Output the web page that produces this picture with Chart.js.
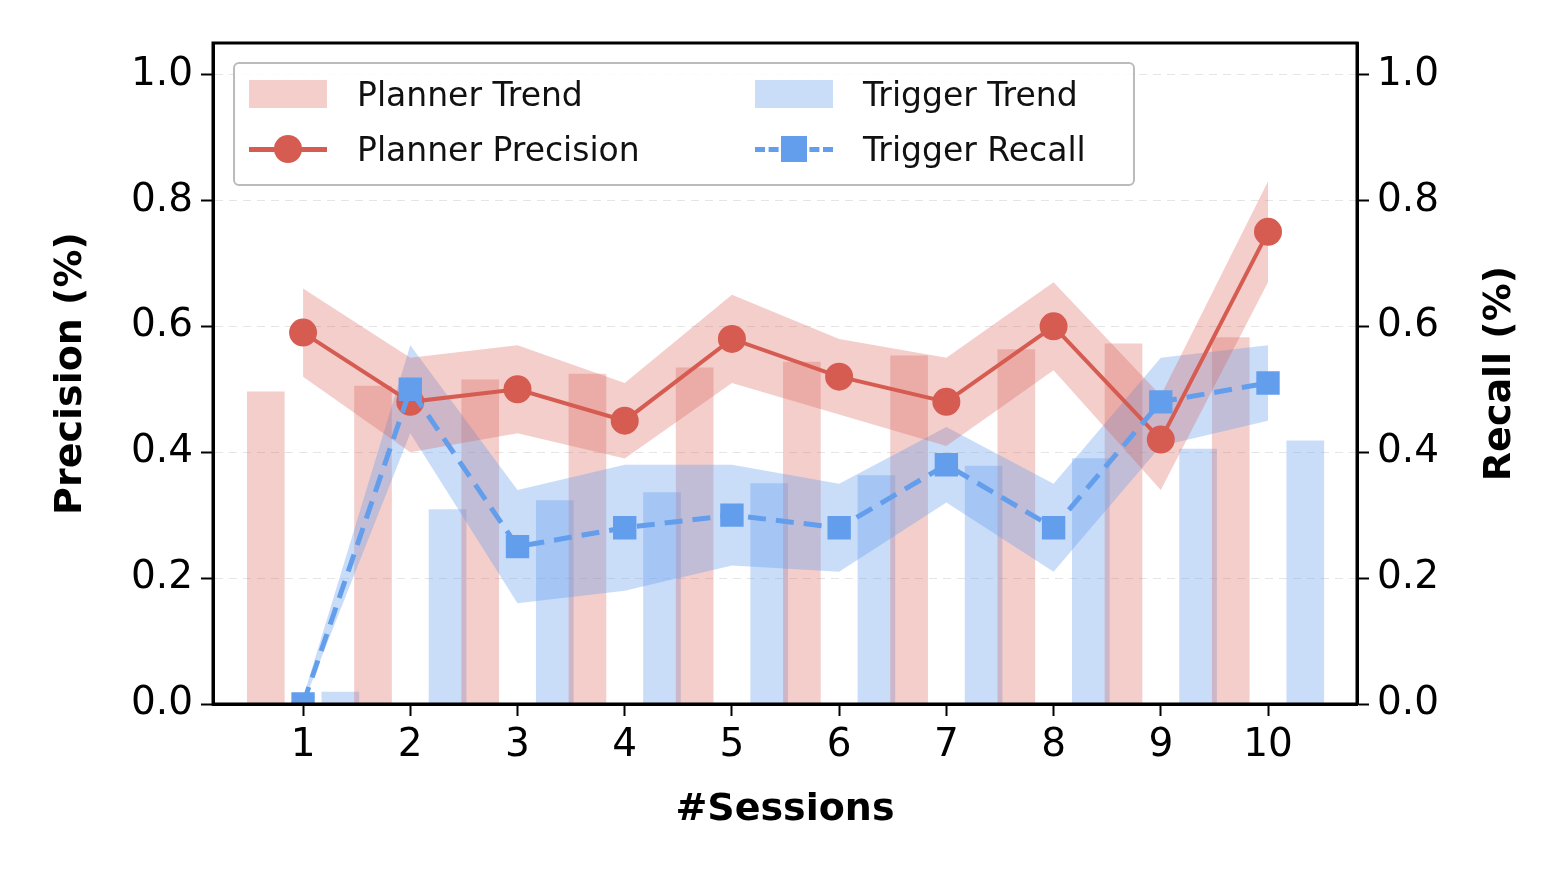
<!DOCTYPE html>
<html><head><meta charset="utf-8">
<script src="https://cdn.jsdelivr.net/npm/chart.js@4"></script>
<style>
body{margin:0;background:#fff;font-family:"DejaVu Sans",sans-serif}
#wrap{position:relative;width:1561px;height:889px}
#leg{position:absolute;left:233px;top:62px;width:898px;height:120px;border:2px solid #bbb;border-radius:6px;background:rgba(255,255,255,0.85);font-size:33px;color:#111}
.it{position:absolute;display:flex;align-items:center;height:50px}
.sw{width:78px;height:28px;margin-right:30px}
.ln{width:78px;height:50px;margin-right:30px;position:relative}
</style></head><body>
<div id="wrap"><canvas id="c" width="1561" height="889"></canvas>
<div id="leg">
 <div class="it" style="left:14px;top:5px"><div class="sw" style="background:rgba(214,92,82,0.3)"></div>Planner Trend</div>
 <div class="it" style="left:520px;top:5px"><div class="sw" style="background:rgba(99,158,237,0.35)"></div>Trigger Trend</div>
 <div class="it" style="left:14px;top:60px"><div class="ln"><div style="position:absolute;top:23px;width:78px;height:5px;background:#d65c52"></div><div style="position:absolute;left:25px;top:11px;width:28px;height:28px;border-radius:50%;background:#d65c52"></div></div>Planner Precision</div>
 <div class="it" style="left:520px;top:60px"><div class="ln"><div style="position:absolute;top:23px;width:78px;border-top:5px dashed #639eed"></div><div style="position:absolute;left:26px;top:12px;width:26px;height:26px;background:#639eed"></div></div>Trigger Recall</div>
</div></div>
<script>
const sessions = [1,2,3,4,5,6,7,8,9,10];
const plannerPrecision = [0.59,0.48,0.50,0.45,0.58,0.52,0.48,0.60,0.42,0.75];
const plannerUpper = [0.66,0.55,0.57,0.51,0.65,0.58,0.55,0.67,0.49,0.83];
const plannerLower = [0.52,0.40,0.43,0.39,0.51,0.46,0.41,0.53,0.34,0.67];
const plannerTrend = [0.496,0.505,0.515,0.524,0.534,0.543,0.553,0.563,0.572,0.582];
const triggerRecall = [0.0,0.50,0.25,0.28,0.30,0.28,0.38,0.28,0.48,0.51];
const triggerUpper = [0.01,0.57,0.34,0.38,0.38,0.35,0.44,0.35,0.55,0.57];
const triggerLower = [0.0,0.43,0.16,0.18,0.22,0.21,0.32,0.21,0.41,0.45];
const triggerTrend = [0.019,0.309,0.323,0.336,0.35,0.363,0.378,0.39,0.405,0.418];
const yTicks = [0,0.2,0.4,0.6,0.8,1.0];

const RED='#d65c52', BLUE='#639eed';
const pts = (xs, ys, dx=0) => xs.map((x,i)=>({x:x+dx,y:ys[i]}));
const band = (data, axis, fill, color, order) => ({type:'line', data, yAxisID:axis, pointRadius:0, borderWidth:0, fill, backgroundColor:color, order});

// box around the plot + right-hand axis title reading bottom-to-top
const frame = {id:'frame', afterDraw(c){
  const a=c.chartArea,x=c.ctx;x.save();
  x.strokeStyle='#000';x.lineWidth=3;x.strokeRect(a.left,a.top,a.right-a.left,a.bottom-a.top);
  x.translate(1500,(a.top+a.bottom)/2);x.rotate(-Math.PI/2);
  x.font='bold 38px "DejaVu Sans"';x.fillStyle='#000';x.textAlign='center';x.textBaseline='middle';
  x.fillText('Recall (%)',0,0);x.restore();}};

const tickFont = {family:'DejaVu Sans', size:39};
const titleFont = {family:'DejaVu Sans', size:38, weight:'bold'};
const yScale = (pos, title, grid) => ({
  type:'linear', position:pos, min:0, max:1.05,
  afterBuildTicks(s){s.ticks = yTicks.map(v=>({value:v}));},
  afterFit(s){s.width = pos==='left'?165:204;},
  ticks:{font:tickFont, color:'#000', padding:8, callback:v=>v.toFixed(1)},
  grid:{display:true, drawOnChartArea:grid, color:'rgba(0,0,0,0.1)', tickColor:'#000', tickLength:12, tickWidth:2},
  border:{display:true, color:'#000', width:3, dash:[8,6]},
  title:{display:!!title, text:title, font:titleFont, color:'#000', padding:0}
});

new Chart(document.getElementById('c'), {
  data:{datasets:[
    {type:'bar', data:pts(sessions, plannerTrend, -0.175), yAxisID:'y', backgroundColor:'rgba(214,92,82,0.3)', barThickness:37, order:10},
    {type:'bar', data:pts(sessions, triggerTrend, 0.175), yAxisID:'y1', backgroundColor:'rgba(99,158,237,0.35)', barThickness:37, order:10},
    band(pts(sessions, plannerLower), 'y', false, 'rgba(0,0,0,0)', 8),
    band(pts(sessions, plannerUpper), 'y', '-1', 'rgba(214,92,82,0.3)', 8),
    band(pts(sessions, triggerLower), 'y1', false, 'rgba(0,0,0,0)', 8),
    band(pts(sessions, triggerUpper), 'y1', '-1', 'rgba(99,158,237,0.35)', 8),
    {type:'line', data:pts(sessions, plannerPrecision), yAxisID:'y', borderColor:RED, backgroundColor:RED, borderWidth:4, pointRadius:12, pointStyle:'circle', order:2},
    {type:'line', data:pts(sessions, triggerRecall), yAxisID:'y1', borderColor:BLUE, backgroundColor:BLUE, borderWidth:5, borderDash:[18,10], pointRadius:13, pointStyle:'rect', order:1}
  ]},
  options:{
    responsive:false, animation:false,
    layout:{padding:{top:43, left:48, bottom:52}},
    plugins:{legend:{display:false}, tooltip:{enabled:false}},
    scales:{
      x:{type:'linear', min:0.16, max:10.83, offset:false,
        afterBuildTicks(s){s.ticks = sessions.map(v=>({value:v}));},
        afterFit(s){s.height = 133;},
        ticks:{font:tickFont, color:'#000', padding:6},
        grid:{drawOnChartArea:false, offset:false, tickColor:'#000', tickLength:12, tickWidth:2},
        border:{color:'#000', width:3},
        title:{display:true, text:'#Sessions', font:titleFont, color:'#000', padding:{top:0}}
      },
      y:yScale('left','Precision (%)',true),
      y1:yScale('right','',false)
    }
  },
  plugins:[frame]
});
</script></body></html>
